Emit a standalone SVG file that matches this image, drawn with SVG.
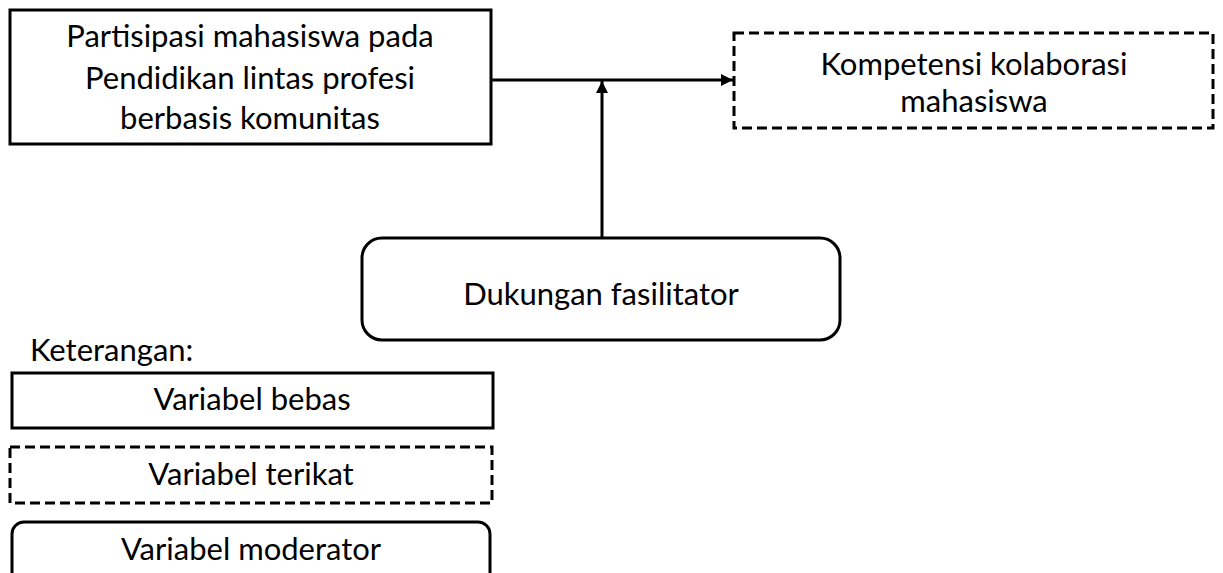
<svg xmlns="http://www.w3.org/2000/svg" width="1223" height="573" viewBox="0 0 1223 573">
<style>
text{font-family:Lato,"Open Sans","Liberation Sans",sans-serif;font-size:31px;fill:#000;text-anchor:middle}
.b{fill:#fff;stroke:#000;stroke-width:3}
.d{fill:#fff;stroke:#000;stroke-width:3;stroke-dasharray:10 5}
.c{stroke:#000;stroke-width:3;fill:none}
</style>
<defs>
<marker id="ah" viewBox="0 0 10 10" refX="10" refY="5" markerWidth="4" markerHeight="4" orient="auto" markerUnits="strokeWidth">
<path d="M0,0L10,5L0,10z" fill="#000"/>
</marker>
</defs>
<g id="connectors">
<line class="c" x1="491" y1="80" x2="733" y2="80" marker-end="url(#ah)"/>
<line class="c" x1="602" y1="238" x2="602" y2="81" marker-end="url(#ah)"/>
</g>
<g id="node-partisipasi">
<rect class="b" x="10" y="10" width="481" height="134"/>
<text x="250" y="47">Partisipasi mahasiswa pada</text>
<text x="250" y="89">Pendidikan lintas profesi</text>
<text x="250" y="129">berbasis komunitas</text>
</g>
<g id="node-kompetensi">
<rect class="d" x="734" y="33" width="479" height="95"/>
<text x="974" y="75">Kompetensi kolaborasi</text>
<text x="974" y="112">mahasiswa</text>
</g>
<g id="node-dukungan">
<rect class="b" x="362" y="238" width="478" height="102" rx="20"/>
<text x="601" y="305">Dukungan fasilitator</text>
</g>
<g id="legend">
<text x="30" y="361" style="text-anchor:start">Keterangan:</text>
<rect class="b" x="12" y="373" width="481" height="55"/>
<text x="252" y="410">Variabel bebas</text>
<rect class="d" x="10" y="447" width="482" height="56"/>
<text x="251" y="485">Variabel terikat</text>
<rect class="b" x="12" y="522" width="478" height="70" rx="12"/>
<text x="251" y="560">Variabel moderator</text>
</g>
</svg>
